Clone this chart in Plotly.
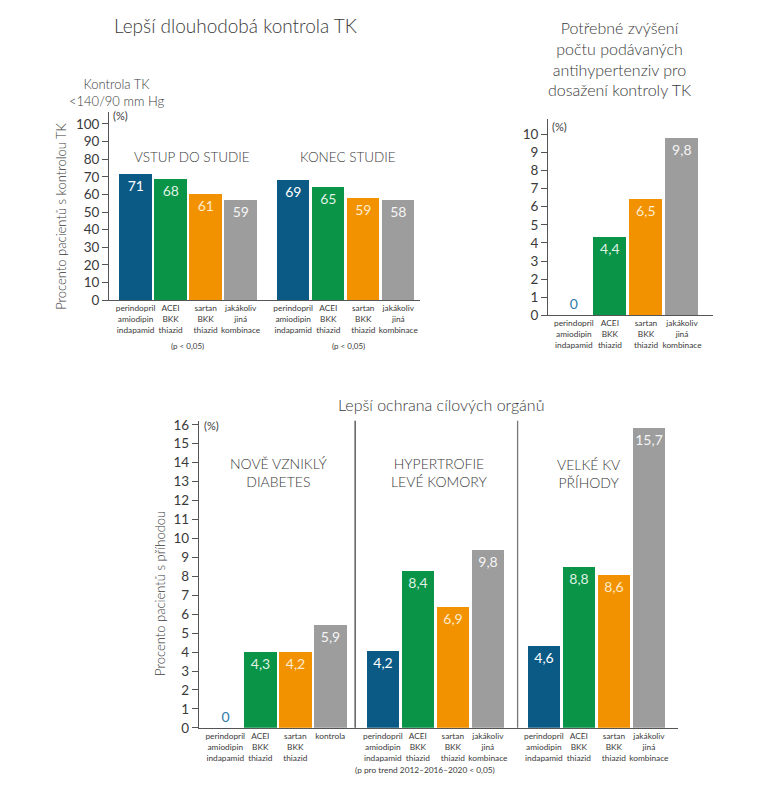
import plotly.graph_objects as go

W, H = 782, 800
PAGE_PAD = 8  # default body margin of the written page
FW, FH = W - 2 * PAGE_PAD, H - 2 * PAGE_PAD

BLUE = '#0b5a85'
GREEN = '#0a9447'
ORANGE = '#f39200'
GREY = '#9d9d9d'
BAR_COLORS = [BLUE, GREEN, ORANGE, GREY]
TEXT_COLORS = ['#ffffff', '#dff1e3', '#fdeccd', '#f5f5f5']
ZERO_COLOR = '#2f7aaa'
INK = '#3a3a3a'
FONT = 'Lato'

# category labels
CAT_COMBO = ['perindopril<br>amiodipin<br>indapamid', 'ACEI<br>BKK<br>thiazid',
             'sartan<br>BKK<br>thiazid', 'jakákoliv<br>jiná<br>kombinace']
CAT_DIAB = ['perindopril<br>amiodipin<br>indapamid', 'ACEI<br>BKK<br>thiazid',
            'sartan<br>BKK<br>thiazid', 'kontrola']

# top-left: BP control (bar heights as drawn, printed labels)
TK_START = [72.0, 68.7, 60.6, 57.2]
TK_START_LABELS = ['71', '68', '61', '59']
TK_END = [68.5, 64.6, 58.3, 57.2]
TK_END_LABELS = ['69', '65', '59', '58']

# top-right: escalation of therapy
ESC = [0, 4.35, 6.44, 9.81]
ESC_LABELS = ['0', '4,4', '6,5', '9,8']

# bottom: target organ protection
DIAB = [0, 4.04, 4.04, 5.46]
DIAB_LABELS = ['0', '4,3', '4,2', '5,9']
LVH = [4.07, 8.32, 6.41, 9.40]
LVH_LABELS = ['4,2', '8,4', '6,9', '9,8']
CV = [4.33, 8.53, 8.11, 15.86]
CV_LABELS = ['4,6', '8,8', '8,6', '15,7']


def px(x):
    return (x - PAGE_PAD) / FW


def py(y):
    return 1 - (y - PAGE_PAD) / FH


def slots(start, n=4):
    return [start + i for i in range(n)]


def add_bars(fig, xs, values, labels, xaxis, yaxis, width=0.93):
    positions = ['outside' if v == 0 else 'inside' for v in values]
    colors = [ZERO_COLOR if v == 0 else c for v, c in zip(values, TEXT_COLORS)]
    fig.add_trace(go.Bar(
        x=xs, y=values, text=labels,
        textposition=positions,
        insidetextanchor='end',
        textangle=0,
        constraintext='none',
        textfont=dict(size=14, color=colors, family=FONT),
        marker=dict(color=BAR_COLORS, line=dict(width=0)),
        width=width,
        xaxis=xaxis, yaxis=yaxis,
        showlegend=False,
        hoverinfo='skip',
        cliponaxis=False,
    ))


fig = go.Figure()

g1, g2 = slots(0), slots(4.5)
add_bars(fig, g1, TK_START, TK_START_LABELS, 'x', 'y')
add_bars(fig, g2, TK_END, TK_END_LABELS, 'x', 'y')

add_bars(fig, slots(0), ESC, ESC_LABELS, 'x2', 'y2', width=0.92)

b1, b2, b3 = slots(0), slots(4.5), slots(9.1)
add_bars(fig, b1, DIAB, DIAB_LABELS, 'x3', 'y3')
add_bars(fig, b2, LVH, LVH_LABELS, 'x3', 'y3')
add_bars(fig, b3, CV, CV_LABELS, 'x3', 'y3')

xcommon = dict(showgrid=False, zeroline=False, showline=True, linecolor='#555',
               linewidth=1.3, ticks='', tickangle=0, ticklabelstandoff=0,
               tickfont=dict(size=8.3, color=INK), fixedrange=True)
ycommon = dict(showgrid=False, zeroline=False, showline=True, linecolor='#555',
               linewidth=1.3, ticks='outside', ticklen=6, tickcolor='#555',
               tickfont=dict(size=13.5, color=INK), fixedrange=True)

annotations = []


def note(text, x, y, size, weight=400, **kw):
    annotations.append(dict(text=text, x=px(x), y=py(y), xref='paper', yref='paper',
                            xanchor='center', yanchor='middle', showarrow=False,
                            font=dict(size=size, color=INK, family=FONT, weight=weight),
                            **kw))


# titles
note('Lepší dlouhodobá kontrola TK', 235, 22, 19, 300)
note('Potřebné zvýšení<br>počtu podávaných<br>antihypertenziv pro<br>dosažení kontroly TK',
     620, 55, 16, 300)
note('Lepší ochrana cílových orgánů', 441, 407, 16, 300)

# top-left extras
note('Kontrola TK<br>&lt;140/90 mm Hg', 116, 90, 13, 300)
note('(%)', 120, 113, 11)
note('Procento pacientů s kontrolou TK', 61, 216, 13, 300, textangle=-90)
note('VSTUP DO STUDIE', 192, 155, 13.5, 300)
note('KONEC STUDIE', 348, 155, 13.5, 300)
note('(p &lt; 0,05)', 187, 347, 8)
note('(p &lt; 0,05)', 348, 347, 8)

# top-right extras
note('(%)', 559, 124, 11)

# bottom extras
note('(%)', 211, 428, 11)
note('Procento pacientů s příhodou', 160, 599, 13, 300, textangle=-90)
note('NOVĚ VZNIKLÝ<br>DIABETES', 278, 476, 14, 300)
note('HYPERTROFIE<br>LEVÉ KOMORY', 439, 476, 14, 300)
note('VELKÉ KV<br>PŘÍHODY', 588, 477, 14, 300)
note('(p pro trend 2012–2016–2020 &lt; 0,05)', 425, 778, 8.3)

shapes = []
for xpos, col in [(3.71, '#444'), (8.35, '#777')]:
    shapes.append(dict(type='line', xref='x3', yref='y3 domain', x0=xpos, x1=xpos,
                       y0=0, y1=1, line=dict(color=col, width=1.3)))

fig.update_layout(
    width=FW, height=FH, autosize=False,
    margin=dict(l=0, r=0, t=0, b=0),
    paper_bgcolor='white', plot_bgcolor='white',
    font=dict(family=FONT, color=INK),
    bargap=0,
    xaxis=dict(**xcommon, domain=[px(109.3), px(420)], range=[-0.75, 8.12],
               tickvals=g1 + g2, ticktext=CAT_COMBO + CAT_COMBO, anchor='y'),
    yaxis=dict(**ycommon, domain=[py(300.7), py(109.3)], range=[0, 106.9],
               tickvals=list(range(0, 101, 10)), anchor='x'),
    xaxis2=dict(**xcommon, domain=[px(548.3), px(713)], range=[-0.71, 3.86],
                tickvals=slots(0), ticktext=CAT_COMBO, anchor='y2'),
    yaxis2=dict(**ycommon, domain=[py(316), py(116.7)], range=[0, 10.85],
                tickvals=list(range(0, 11)), anchor='x2'),
    xaxis3=dict(**xcommon, domain=[px(199), px(678.3)], range=[-0.75, 12.94],
                tickvals=b1 + b2 + b3, ticktext=CAT_DIAB + CAT_COMBO + CAT_COMBO,
                anchor='y3'),
    yaxis3=dict(**ycommon, domain=[py(735), py(423)], range=[0, 16.22],
                tickvals=list(range(0, 17)), anchor='x3'),
    annotations=annotations,
    shapes=shapes,
)

fig.write_html("out.html")
